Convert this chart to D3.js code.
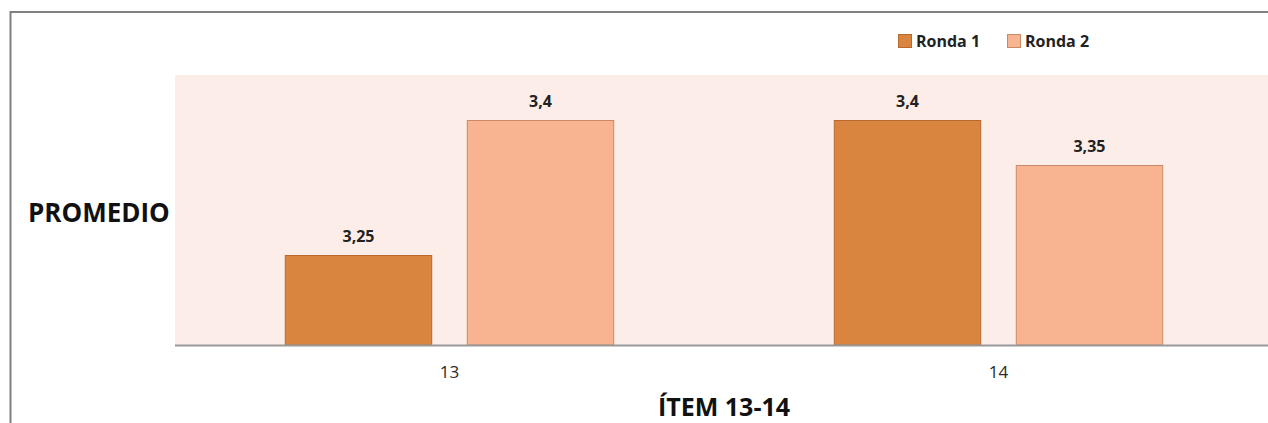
<!DOCTYPE html>
<html>
<head>
<meta charset="utf-8">
<script src="https://cdn.jsdelivr.net/npm/d3@7"></script>
<style>
  html, body { margin: 0; padding: 0; background: #fff; }
  svg { display: block; }
  text { font-family: "Open Sans", "Noto Sans", sans-serif; }
</style>
</head>
<body>
<svg id="chart" width="1268" height="423"></svg>
<script>
const categories = ["13", "14"];
const seriesNames = ["Ronda 1", "Ronda 2"];
const ronda1 = [3.25, 3.4];
const ronda2 = [3.4, 3.35];
const yDomain = [3.15, 3.45];
const yTitle = "PROMEDIO";
const xTitle = "ÍTEM 13-14";

const colors = ["#D9843F", "#F8B490"];
const strokes = ["#B7692E", "#C98A66"];

const svg = d3.select("#chart");
const W = 1268, H = 423;
const plot = { left: 175, right: 1273, top: 75, bottom: 345 };

// frame
svg.append("path")
  .attr("d", `M10.5,${H + 5} L10.5,12 L${W + 5},12`)
  .attr("fill", "none").attr("stroke", "#808080").attr("stroke-width", 2);

// plot background
svg.append("rect")
  .attr("x", plot.left).attr("y", plot.top)
  .attr("width", W - plot.left).attr("height", plot.bottom - plot.top)
  .attr("fill", "#FCEDE8");

const x0 = d3.scaleBand().domain(categories).range([plot.left, plot.right])
  .paddingInner(0.4).paddingOuter(0.2);
const x1 = d3.scaleBand().domain(seriesNames).range([0, x0.bandwidth()]).paddingInner(0.19);
const y = d3.scaleLinear().domain(yDomain).range([plot.bottom, plot.top]);

const data = categories.map((c, i) => ({
  cat: c,
  vals: [ {s: seriesNames[0], v: ronda1[i], k: 0}, {s: seriesNames[1], v: ronda2[i], k: 1} ]
}));

const fmt = v => String(v).replace(".", ",");

const groups = svg.selectAll("g.grp").data(data).join("g")
  .attr("class", "grp")
  .attr("transform", d => `translate(${x0(d.cat)},0)`);

groups.selectAll("rect").data(d => d.vals).join("rect")
  .attr("x", d => x1(d.s) + 0.5)
  .attr("y", d => y(d.v) + 0.5)
  .attr("width", x1.bandwidth() - 1)
  .attr("height", d => plot.bottom - y(d.v) - 0.5)
  .attr("fill", d => colors[d.k])
  .attr("stroke", d => strokes[d.k])
  .attr("stroke-width", 1);

groups.selectAll("text.lbl").data(d => d.vals).join("text")
  .attr("class", "lbl")
  .attr("x", d => x1(d.s) + x1.bandwidth() / 2)
  .attr("y", d => y(d.v) - 13)
  .attr("text-anchor", "middle")
  .attr("font-size", 16).attr("font-weight", "bold").attr("fill", "#222")
  .text(d => fmt(d.v));

// x axis
const xAxis = svg.append("g")
  .attr("transform", `translate(0,${plot.bottom})`)
  .call(d3.axisBottom(x0).tickSize(0).tickPadding(0));
xAxis.select(".domain").remove();
xAxis.append("line")
  .attr("x1", plot.left).attr("x2", W)
  .attr("y1", 0.5).attr("y2", 0.5)
  .attr("stroke", "#999").attr("stroke-width", 2);
xAxis.selectAll(".tick text")
  .attr("y", 33).attr("dy", 0)
  .attr("font-size", 17).attr("fill", "#2a2a2a")
  .attr("font-family", "\"Open Sans\", sans-serif");

// titles
svg.append("text").attr("x", 28).attr("y", 222)
  .attr("font-size", 26).attr("font-weight", "bold").attr("fill", "#111")
  .text(yTitle);
svg.append("text").attr("x", 724).attr("y", 416)
  .attr("text-anchor", "middle")
  .attr("font-size", 25).attr("font-weight", "bold").attr("fill", "#111")
  .text(xTitle);

// legend
const legendX = [898, 1007];
const lg = svg.selectAll("g.leg").data(seriesNames).join("g")
  .attr("class", "leg")
  .attr("transform", (d, i) => `translate(${legendX[i]},34)`);
lg.append("rect").attr("x", 0.5).attr("y", 0.5).attr("width", 13).attr("height", 13)
  .attr("fill", (d, i) => colors[i]).attr("stroke", (d, i) => strokes[i]);
lg.append("text").attr("x", 18).attr("y", 13)
  .attr("font-size", 16).attr("font-weight", "bold").attr("fill", "#222")
  .text(d => d);
</script>
</body>
</html>
